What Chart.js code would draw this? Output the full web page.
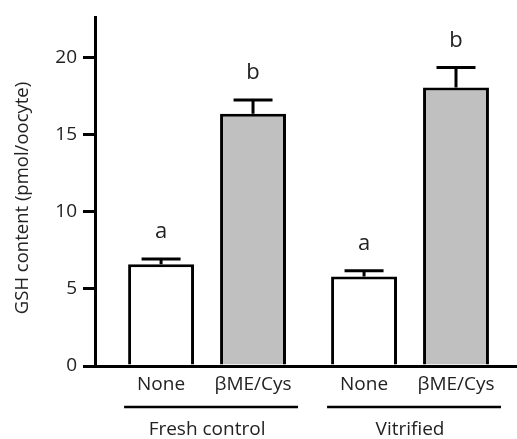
<!DOCTYPE html>
<html>
<head>
<meta charset="utf-8">
<script src="https://cdn.jsdelivr.net/npm/chart.js@4"></script>
<style>
  html, body { margin: 0; padding: 0; background: #fff; }
  #wrap { width: 517px; height: 439px; }
</style>
</head>
<body>
<div id="wrap"><canvas id="gshChart" width="517" height="439"></canvas></div>
<script>
const groups = ["Fresh control", "Vitrified"];
const treatments = ["None", "βME/Cys"];
const noneMeans = [6.6, 5.8];
const noneErrors = [0.33, 0.38];
const bmeMeans = [16.35, 18.05];
const bmeErrors = [0.9, 1.3];
const noneLetters = ["a", "a"];
const bmeLetters = ["b", "b"];
const yTicks = [0, 5, 10, 15, 20];
const yTitle = "GSH content (pmol/oocyte)";

const FONT = "'Open Sans', sans-serif";
const TEXT = "#222";

// error bars, significance letters, grouped x labels and the y title
const extrasPlugin = {
  id: "extras",
  afterDatasetsDraw(chart) {
    const ctx = chart.ctx;
    const y = chart.scales.y;
    const errs = [noneErrors, bmeErrors];
    const means = [noneMeans, bmeMeans];
    const letters = [noneLetters, bmeLetters];
    ctx.save();
    ctx.strokeStyle = "#000";
    ctx.lineWidth = 3;
    chart.data.datasets.forEach((ds, d) => {
      chart.getDatasetMeta(d).data.forEach((bar, i) => {
        const top = y.getPixelForValue(means[d][i]);
        const cap = y.getPixelForValue(means[d][i] + errs[d][i]);
        ctx.beginPath();
        ctx.moveTo(bar.x, top);
        ctx.lineTo(bar.x, cap);
        ctx.moveTo(bar.x - 19.5, cap);
        ctx.lineTo(bar.x + 19.5, cap);
        ctx.stroke();

        ctx.fillStyle = TEXT;
        ctx.font = "22px " + FONT;
        ctx.textAlign = "center";
        ctx.textBaseline = "middle";
        ctx.fillText(letters[d][i], bar.x, cap - 27);

        ctx.font = "19px " + FONT;
        ctx.fillText(treatments[d], bar.x, 385);
      });
    });
    const m0 = chart.getDatasetMeta(0).data;
    const m1 = chart.getDatasetMeta(1).data;
    groups.forEach((g, i) => {
      const left = m0[i].x - m0[i].width / 2 - 4;
      const right = m1[i].x + m1[i].width / 2 + 12;
      ctx.lineWidth = 2.5;
      ctx.beginPath();
      ctx.moveTo(left, 407);
      ctx.lineTo(right, 407);
      ctx.stroke();
      ctx.fillStyle = TEXT;
      ctx.font = "19px " + FONT;
      ctx.textAlign = "center";
      ctx.textBaseline = "middle";
      ctx.fillText(g, chart.scales.x.getPixelForValue(i), 430);
    });

    ctx.translate(23, 198);
    ctx.rotate(-Math.PI / 2);
    ctx.fillStyle = TEXT;
    ctx.font = "18.5px " + FONT;
    ctx.textAlign = "center";
    ctx.textBaseline = "middle";
    ctx.fillText(yTitle, 0, 0);
    ctx.restore();
  }
};

const ctx = document.getElementById("gshChart").getContext("2d");

const gshChart = new Chart(ctx, {
  type: "bar",
  data: {
    datasets: [
      {
        label: treatments[0],
        data: noneMeans.map((v, i) => ({ x: i, y: v })),
        backgroundColor: "#ffffff",
        borderColor: "#000",
        borderWidth: 3,
      },
      {
        label: treatments[1],
        data: bmeMeans.map((v, i) => ({ x: i, y: v })),
        backgroundColor: "#c0c0c0",
        borderColor: "#000",
        borderWidth: 3,
      },
    ],
  },
  options: {
    responsive: false,
    animation: false,
    maintainAspectRatio: false,
    categoryPercentage: 0.906,
    barPercentage: 0.717,
    layout: {
      padding: { top: 13, bottom: 73, left: 0, right: 0 },
    },
    plugins: {
      legend: { display: false },
      tooltip: { enabled: false },
    },
    scales: {
      x: {
        type: "linear",
        offset: false,
        min: -0.552,
        max: 1.527,
        afterBuildTicks: (scale) => {
          scale.ticks = groups.map((g, i) => ({ value: i }));
        },
        grid: { display: false, drawTicks: false },
        ticks: { display: false },
        border: { display: true, color: "#000", width: 3 },
      },
      y: {
        min: 0,
        max: 22.6,
        afterBuildTicks: (scale) => {
          scale.ticks = yTicks.map((v) => ({ value: v }));
        },
        afterFit: (scale) => {
          scale.width = 95;
        },
        grid: {
          display: true,
          drawOnChartArea: false,
          drawTicks: true,
          tickLength: 12,
          color: "#000",
          lineWidth: 3,
        },
        border: { display: true, color: "#000", width: 3 },
        ticks: {
          padding: 6,
          color: TEXT,
          font: { family: FONT, size: 19 },
        },
      },
    },
  },
  plugins: [extrasPlugin],
});
</script>
</body>
</html>
